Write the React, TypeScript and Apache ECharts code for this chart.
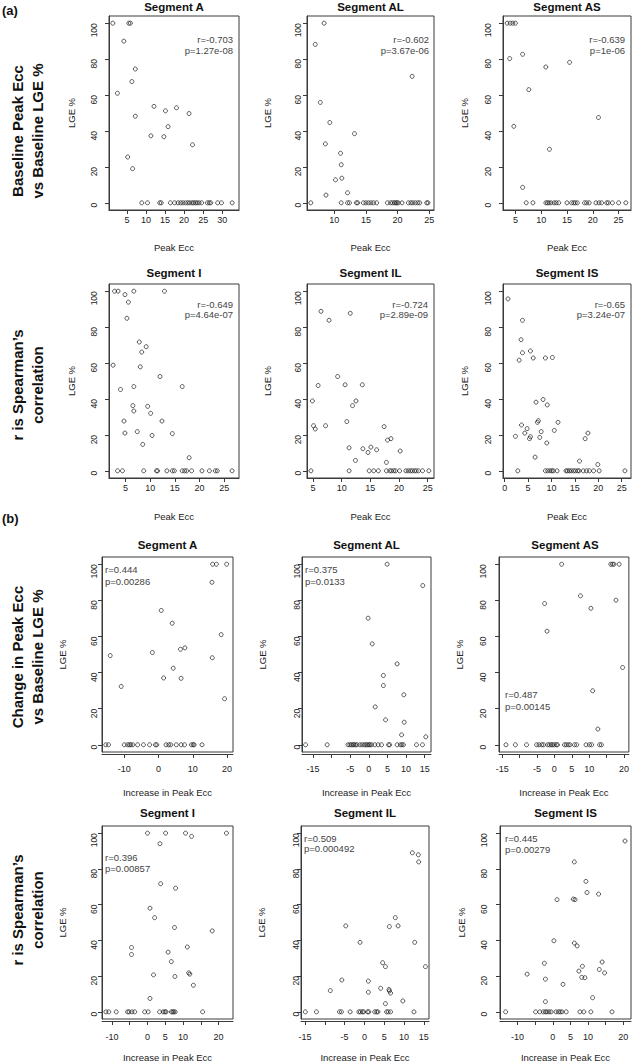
import React, { useEffect, useRef } from "react";
import * as echarts from "echarts";

// ---------- DATA (LGE % vs Peak Ecc) ----------
const baseA: [number, number][] = [[1.3,100],[5.5,100],[5.9,100],[4.2,90],[7.2,74.5],[6.3,67.5],[2.5,61],[7.2,48.2],[12.1,53.7],[15.1,51.2],[18,52.9],[21.3,49.7],[15.8,42.4],[11.3,37.3],[14.7,36.8],[22.2,32.3],[5.2,25.5],[6.5,19]];
const baseA0 = [8.9,10.4,13.6,14.0,16.4,17.5,18.4,19.1,19.7,20.4,21.0,21.5,22.1,22.5,23.0,23.4,23.9,24.6,26.1,26.6,27.0,28.8,29.8,32.6];

const baseAL: [number, number][] = [[8.4,100],[7.0,88.2],[7.8,55.9],[9.3,44.7],[8.6,32.8],[8.7,4.3],[10.2,12.8],[11.0,27.6],[11.1,21.2],[11.2,13.7],[12.1,5.6],[13.2,38.5],[22.3,70.4]];
const baseAL0 = [6.3,11.1,12.1,12.4,13.5,13.7,14.6,15.0,15.4,15.8,16.2,16.7,18.4,18.9,19.2,19.5,19.7,19.9,20.1,20.7,21.7,22.1,22.4,22.8,23.2,23.5,24.6,24.8];

const baseAS: [number, number][] = [[3.4,100],[4.0,100],[4.5,100],[5.0,100],[3.9,80.3],[4.7,42.6],[6.4,82.7],[7.6,63],[6.4,8.6],[10.9,75.6],[15.5,78.2],[11.6,29.8],[21.1,47.5]];
const baseAS0 = [7.1,8.4,10.9,11.2,11.5,11.9,12.5,12.9,13.4,15.0,15.9,16.3,16.6,17.0,18.4,18.8,19.3,20.6,21.2,21.7,22.7,23.0,23.8,25.0,26.4];

const baseI: [number, number][] = [[2.5,58.8],[2.8,100],[3.5,100],[4.9,98.1],[6.7,100],[5.6,93.9],[5.3,84.9],[12.9,100],[7.8,71.7],[8.3,66.1],[9.2,69.1],[8.0,57.9],[4.0,45.3],[6.7,46.9],[12.0,52.5],[16.5,46.9],[6.5,36.3],[6.7,33.3],[9.5,35.9],[10.1,32],[4.7,27.7],[4.9,21],[7.4,21.8],[10.4,19.7],[8.5,14.7],[12.4,27.7],[14.5,20.7],[17.9,7.3]];
const baseI0 = [3.4,4.4,8.7,11.3,11.5,13.4,14.5,14.9,16.5,17.0,17.4,18.4,20.5,22.0,23.2,23.6,26.6];

const baseIL: [number, number][] = [[4.9,38.9],[5.1,25.1],[5.4,23.3],[5.9,47.5],[6.4,88.8],[7.2,25.1],[7.8,83.8],[9.3,52.5],[10.6,47.9],[10.9,27.4],[11.3,12.8],[11.5,87.7],[11.9,36.3],[12.5,38.9],[12.4,5.8],[13.6,47.9],[13.7,12.3],[14.6,10.2],[15.1,13.2],[16.1,11.7],[17.4,24.6],[17.8,4.7],[18.0,17.1],[18.6,17.9],[20.2,11]];
const baseIL0 = [4.65,11.3,14.8,15.6,16.4,17.8,18.4,18.7,19.1,19.4,20.1,21.2,21.6,22.0,22.3,22.7,23.0,23.4,24.1,25.2];

const baseIS: [number, number][] = [[0.7,95.7],[2.3,19.2],[3.1,61.6],[3.5,73],[3.8,83.8],[3.8,65.7],[3.6,25.5],[4.3,21],[4.8,23.5],[5.3,17.9],[5.5,19],[5.5,66.7],[6.1,62.8],[6.5,7.6],[6.7,38.2],[7.0,27],[7.2,27.9],[7.5,18.6],[7.8,21.8],[8.2,39.7],[8.7,62.8],[9.1,36.7],[9.0,15.5],[10.2,63.1],[10.6,22.5],[11.4,27],[16.0,5.4],[17.2,17.9],[17.8,21],[19.9,3.5]];
const baseIS0 = [2.8,8.7,9.2,9.7,10.1,10.4,11.2,13.1,13.4,13.8,14.2,14.7,15.1,15.6,15.9,16.8,17.5,18.1,19.0,20.2,25.7];

const chgA: [number, number][] = [[-14.1,49.4],[-10.9,32.3],[-1.8,51.1],[0.8,74.4],[1.5,37],[4.0,67.3],[4.3,42.4],[6.4,52.9],[6.6,36.8],[7.7,53.7],[15.6,90],[15.8,100],[16.9,100],[19.9,100],[18.3,61],[15.7,48.2],[19.3,25.5]];
const chgA0 = [-15.4,-14.6,-10,-9.0,-8.5,-8.1,-7.5,-6.1,-4.4,-2.6,-0.9,-0.5,2.2,3.0,3.6,5.2,6.6,7.6,9.6,10.1,10.4,12.7];

const chgAL: [number, number][] = [[4.9,100],[14.5,88.2],[-0.2,70.1],[0.9,55.9],[7.6,44.8],[3.9,38.4],[3.9,32.8],[9.4,27.7],[1.7,21],[4.5,13.8],[9.5,12.5],[8.8,5.5],[15.3,4.4]];
const chgAL0 = [-17.0,-11.2,-5.6,-5.1,-4.7,-4.3,-4.0,-3.6,-3.2,-2.4,-1.8,-1.2,-0.8,-0.4,0,0.3,0.7,1.6,2.5,3.4,5.3,5.6,7.6,8.5,8.9,9.3,12.8,14.4];

const chgAS: [number, number][] = [[2.1,100],[-2.8,78.2],[-2.1,62.9],[7.5,82.5],[10.5,75.6],[16.2,100],[16.7,100],[17.1,100],[18.6,100],[17.7,80.1],[19.6,42.8],[11.0,29.9],[12.5,8.7]];
const chgAS0 = [-13.9,-11.2,-8.0,-5.1,-4.4,-3.6,-3.1,-1.9,-1.4,-0.9,-0.5,0,0.6,0.9,2.9,3.4,4.0,4.5,5.8,6.4,9.1,10.1,10.7,13.0,13.5];

const chgI: [number, number][] = [[0,100],[5.1,100],[10.7,100],[12.4,98.2],[22.2,100],[3.5,94.1],[3.7,71.7],[7.9,69.2],[0.7,58],[2.0,52.7],[7.6,47.2],[18.2,45.3],[-4.5,36],[-4.5,32.1],[11.2,36.3],[5.8,33.4],[6.7,28.1],[11.6,21.8],[11.9,21.1],[1.7,20.7],[7.7,19.8],[12.9,14.9],[0.7,7.5]];
const chgI0 = [-11.7,-10.9,-8.8,-5.6,-5.2,-4.4,-3.6,-0.8,0.2,3.4,4.4,4.9,5.2,6.7,7.1,7.4,7.8,15.5];

const chgIL: [number, number][] = [[12.1,89],[13.6,87.9],[13.7,83.9],[7.8,52.7],[6.3,47.7],[8.5,48.1],[-4.7,48.1],[-1.1,38.9],[12.7,38.9],[4.6,27.5],[5.3,25.3],[15.4,25.3],[-5.7,17.8],[1.0,17.2],[-8.6,11.9],[1.0,11],[4.1,13.2],[6.2,12.5],[6.3,11.7],[6.6,10.5],[5.3,4.6],[9.7,6.1]];
const chgIL0 = [-14.9,-12.1,-6.3,-5.8,-3.6,-1.4,-1.0,-0.5,-0.2,0.8,1.1,2.6,3.1,3.4,5.6,6.0,6.6,12.5];

const chgIS: [number, number][] = [[20.5,95.6],[6.1,83.9],[9.4,73],[9.7,66.8],[13.0,65.9],[1.2,62.8],[5.8,63.1],[6.3,62.8],[0.3,39.8],[6.1,38.5],[6.9,36.9],[-2.4,27.2],[14.0,27.9],[8.4,25.5],[7.4,22.8],[13.2,23.7],[14.7,21.8],[8.2,19.3],[9.1,19.1],[-7.3,21.1],[-2.1,18.3],[2.9,15.4],[11.3,7.9],[-2.1,5.7]];
const chgIS0 = [-13.4,-4.9,-3.7,-2.7,-2.1,-1.7,-1.1,-0.5,0.9,1.6,2.1,2.6,3.8,7.7,8.8,10.8,16.8];

const titles = ["Segment A", "Segment AL", "Segment AS", "Segment I", "Segment IL", "Segment IS",
  "Segment A", "Segment AL", "Segment AS", "Segment I", "Segment IL", "Segment IS"];
const rVals = ["r=-0.703", "r=-0.602", "r=-0.639", "r=-0.649", "r=-0.724", "r=-0.65",
  "r=0.444", "r=0.375", "r=0.487", "r=0.396", "r=0.509", "r=0.445"];
const pVals = ["p=1.27e-08", "p=3.67e-06", "p=1e-06", "p=4.64e-07", "p=2.89e-09", "p=3.24e-07",
  "p=0.00286", "p=0.0133", "p=0.00145", "p=0.00857", "p=0.000492", "p=0.00279"];
const xNames = ["Peak Ecc", "Peak Ecc", "Increase in Peak Ecc", "Increase in Peak Ecc"];
const yName = "LGE %";
const yTicks = [0, 20, 40, 60, 80, 100];

const xTicks: number[][] = [
  [5,10,15,20,25,30], [10,15,20,25], [5,10,15,20,25],
  [5,10,15,20,25], [5,10,15,20,25], [0,5,10,15,20,25],
  [-10,0,10,20], [-15,-10,-5,0,5,10,15], [-15,-10,-5,0,5,10,15,20],
  [-10,-5,0,5,10,15,20], [-15,-10,-5,0,5,10,15], [-10,-5,0,5,10,15,20],
];
const xLabels: number[][] = [
  [5,10,15,20,25,30], [10,15,20,25], [5,10,15,20,25],
  [5,10,15,20,25], [5,10,15,20,25], [0,5,10,15,20,25],
  [-10,0,10,20], [-15,-5,0,5,10,15], [-15,-5,0,5,10,20],
  [-10,0,5,10,20], [-15,-5,0,5,10,15], [-10,0,5,10,20],
];
const xRanges: [number, number][] = [
  [0.3,34.4], [5.7,25.75], [2.6,27.4],
  [1.67,28], [3.96,26.1], [-0.36,27],
  [-16.5,21.75], [-17.96,16.7], [-15.9,21.4],
  [-12.8,24.05], [-16,16.3], [-15,22.2],
];
const points = [baseA, baseAL, baseAS, baseI, baseIL, baseIS, chgA, chgAL, chgAS, chgI, chgIL, chgIS];
const zeroXs = [baseA0, baseAL0, baseAS0, baseI0, baseIL0, baseIS0, chgA0, chgAL0, chgAS0, chgI0, chgIL0, chgIS0];

// ---------- LAYOUT ----------
const FONT = "'Liberation Sans', Arial, sans-serif";
const rowBox = [{ top: 16, h: 194 }, { top: 284, h: 194 }, { top: 557, h: 195 }, { top: 826, h: 197 }];
const colBox = [
  [[109,130],[307,127],[503,128]],
  [[109,130],[307,127],[503,128]],
  [[102,131],[302,129],[499,132]],
  [[102,131],[301,128],[500,131]],
];
const yLabMargin = [[15.5,9.5,15.5],[15.5,9.5,15.5],[8,5,16],[8,5,16]];
const yNameGap = [[33,35,34],[33,35,34],[35,35,35],[35,35,34]];
const xLabMargin = [5.5, 5.5, 10, 11];
const xNameGap = [32.5, 33, 33, 31];
const xOffset = [0, 0, 2, 2];
const titleY = [7, 273, 545, 813];
const statPos: [number, number, number, string][] = [
  [233,39,50,"right"],[429,39,50,"right"],[625,39,50,"right"],
  [233,304,314,"right"],[428,304,314,"right"],[625,304,314,"right"],
  [105,569,581,"left"],[305,569,581,"left"],[505,694,706,"left"],
  [105,857,868,"left"],[304,838,848,"left"],[505,838,849,"left"],
];
// vertical (bottom-to-top) y tick labels; exactly 90 is laid out horizontally by this echarts build
const Y_LABEL_ROTATE = 89.995;

function txt(x: number, y: number, text: string, o: any = {}) {
  const align = o.align || "center";
  const v = o.v || "middle";
  return {
    type: "text", x, y, rotation: o.rot || 0, silent: true,
    style: {
      text, fill: o.fill || "#111", fontSize: o.size || 10, fontFamily: o.family || FONT,
      fontWeight: o.weight || "normal", align, verticalAlign: v, textAlign: align, textVerticalAlign: v,
      lineHeight: o.lh || undefined,
    },
  };
}

function buildOption() {
  const grid: any[] = [], xAxis: any[] = [], yAxis: any[] = [], series: any[] = [], graphic: any[] = [];
  for (let i = 0; i < 12; i++) {
    const row = Math.floor(i / 3), col = i % 3;
    const [left, width] = colBox[row][col];
    const { top, h } = rowBox[row];
    grid.push({ left, top, width, height: h, show: true, borderColor: "#3a3a3a", borderWidth: 1, backgroundColor: "transparent" });
    const axisLine = { show: true, onZero: false, lineStyle: { color: "#3a3a3a", width: 1 } };
    xAxis.push({
      type: "value", gridIndex: i, min: xRanges[i][0], max: xRanges[i][1], offset: xOffset[row],
      axisLine,
      axisTick: { show: true, inside: false, length: 4, customValues: xTicks[i], lineStyle: { color: "#3a3a3a" } },
      axisLabel: { customValues: xLabels[i], margin: xLabMargin[row], fontSize: 9, color: "#222", fontFamily: FONT },
      splitLine: { show: false },
      name: xNames[row], nameLocation: "middle", nameGap: xNameGap[row],
      nameTextStyle: { fontSize: 9.5, color: "#222", fontFamily: FONT },
    });
    yAxis.push({
      type: "value", gridIndex: i, min: -4, max: 104,
      axisLine,
      axisTick: { show: true, inside: false, length: 4, customValues: yTicks, lineStyle: { color: "#3a3a3a" } },
      axisLabel: { customValues: yTicks, rotate: Y_LABEL_ROTATE, margin: yLabMargin[row][col], fontSize: 8.5, color: "#222", fontFamily: FONT },
      splitLine: { show: false },
      name: yName, nameLocation: "middle", nameGap: yNameGap[row][col], nameRotate: 90,
      nameTextStyle: { fontSize: 9.5, color: "#222", fontFamily: FONT },
    });
    const data = points[i].concat(zeroXs[i].map((x) => [x, 0] as [number, number]));
    series.push({
      type: "scatter", xAxisIndex: i, yAxisIndex: i, data, symbol: "circle", symbolSize: 4,
      itemStyle: { color: "rgba(0,0,0,0)", borderColor: "#1a1a1a", borderWidth: 0.9 },
      emphasis: { disabled: true },
    });
    graphic.push(txt(left + width / 2, titleY[row], titles[i], { size: 11.5, weight: "bold", fill: "#111" }));
    const [sx, sy1, sy2, al] = statPos[i];
    graphic.push(txt(sx, sy1, rVals[i], { size: 9.5, align: al, fill: "#444" }));
    graphic.push(txt(sx, sy2, pVals[i], { size: 9.5, align: al, fill: "#444" }));
  }
  graphic.push(txt(2, 10, "(a)", { size: 13, weight: "bold", align: "left" }));
  graphic.push(txt(2, 518, "(b)", { size: 13, weight: "bold", align: "left" }));
  const side = (y: number, t: string) => txt(27, y, t, { size: 15, weight: "bold", rot: Math.PI / 2, lh: 20 });
  graphic.push(side(131, "Baseline Peak Ecc\nvs Baseline LGE %"));
  graphic.push(side(385, "r is Spearman\u2019s\ncorrelation"));
  graphic.push(side(657, "Change in Peak Ecc\nvs Baseline LGE %"));
  graphic.push(side(910, "r is Spearman\u2019s\ncorrelation"));

  return { animation: false, backgroundColor: "#fff", grid, xAxis, yAxis, series, graphic };
}

export default function App() {
  const ref = useRef<HTMLDivElement>(null);
  useEffect(() => {
    document.body.style.margin = "0";
    document.body.style.overflow = "hidden";
    const chart = echarts.init(ref.current!, null, { renderer: "svg" });
    chart.setOption(buildOption() as any);
    return () => chart.dispose();
  }, []);
  return <div ref={ref} style={{ width: 632, height: 1063 }} />;
}
